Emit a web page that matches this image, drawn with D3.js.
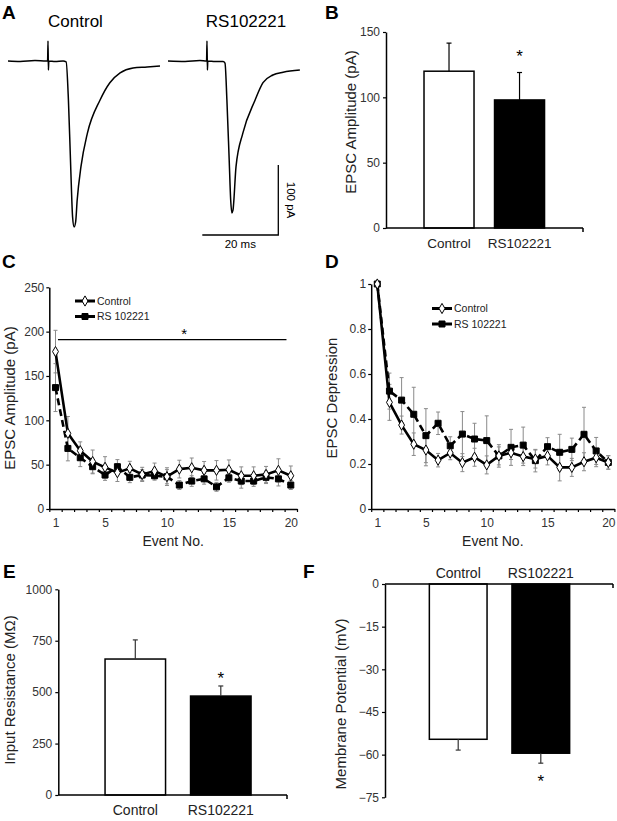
<!DOCTYPE html>
<html><head><meta charset="utf-8">
<script src="https://cdn.jsdelivr.net/npm/d3@7"></script>
<style>
body{margin:0;background:#fff;}
svg text{font-family:Arial,"Liberation Sans",Helvetica,sans-serif;}
</style></head><body>
<svg id="fig" width="617" height="821"></svg>
<script>
// ---------- DATA ----------
// Panel A: example EPSC traces (time in ms, current in pA)
const controlTraceT = [0,3.2,7.1,10.0,10.42,10.53,10.63,10.74,12.4,14.5,15.3,15.9,16.5,17.0,17.4,17.8,18.2,19.2,20.9,24.2,26.8,29.5,32.9,36.6,40];
const controlTraceI = [0,-0.7,0.7,0,0,28.6,-12.9,0,-0.7,0,-1.4,-55.7,-151,-223,-237,-230,-199,-151,-103,-56,-31,-17,-10,-8.6,-7.1];
const rsTraceT = [0,4.5,8.4,10.15,10.26,10.37,10.47,12.4,14.5,15.0,15.5,16.1,16.5,16.8,17.1,17.9,19.7,22.9,25.0,27.6,30.3,34.7];
const rsTraceI = [0,-0.7,0.7,0,28.6,-12.9,0,-0.7,-0.7,-2.9,-55.7,-141,-199,-217,-213,-151,-103,-56,-31,-20,-16,-13];
const traceTitles = ["Control","RS102221"];
const scaleBarMs = 20, scaleBarPA = 100;

// Bar charts
const barCats = ["Control","RS102221"];
const epscAmp = [120, 98], epscAmpSE = [21.5, 21];
const inputRes = [661, 481], inputResSE = [93, 49];
const membPot = [-54.6, -59.5], membPotSE = [3.8, 3.5];
const ticksB = [0,50,100,150];
const ticksE = [0,250,500,750,1000];
const ticksF = [0,-15,-30,-45,-60,-75];

// Panels C & D
const events = [1,2,3,4,5,6,7,8,9,10,11,12,13,14,15,16,17,18,19,20];
const eventTickLabels = [1,5,10,15,20];
const seriesNames = ["Control","RS 102221"];
const ampControl = [177.5,85.3,65.7,53.5,47,41,45.8,39,42.8,36.5,45,46.5,43.6,43.6,44.3,37.5,37.5,39,43.6,37.5];
const ampControlSE = [24,19,10,13,12,10,8,8,9,10,10,11,10,11,11,10,10,9,13,11];
const ampRS = [136.9,68.3,57.8,47.7,38.3,47.7,35.7,38.3,37.5,36.4,27,31.5,34,25,35.2,31.5,31.5,35.7,34,27];
const ampRSSE = [27,14,10,8,6,8,6,6,5,8,5,6,6,5,5,8,6,7,8,5];
const ticksC = [0,50,100,150,200,250];
const sigC = {from:1.2, to:19.65, value:191};

const depControl = [1,0.474,0.373,0.288,0.262,0.217,0.249,0.206,0.23,0.196,0.236,0.25,0.233,0.222,0.236,0.185,0.185,0.21,0.228,0.207];
const depControlSE = [0,0.08,0.04,0.05,0.07,0.03,0.03,0.04,0.04,0.04,0.04,0.03,0.04,0.04,0.04,0.06,0.04,0.04,0.04,0.03];
const depRS = [1,0.524,0.484,0.421,0.326,0.381,0.281,0.333,0.311,0.304,0.236,0.274,0.284,0.215,0.277,0.252,0.265,0.332,0.258,0.207];
const depRSSE = [0,0.08,0.1,0.12,0.12,0.05,0.04,0.1,0.07,0.11,0.05,0.08,0.08,0.05,0.04,0.08,0.05,0.12,0.06,0.03];
const ticksD = [0,0.2,0.4,0.6,0.8,1];

// ---------- DRAWING ----------
const svg = d3.select("#fig");
const TICKCOL = "#333";

function letter(t,x,y){
  svg.append("text").attr("x",x).attr("y",y).attr("font-size",19).attr("font-weight","bold").text(t);
}
function yLabel(t,x,y){
  svg.append("text").attr("transform",`translate(${x},${y}) rotate(-90)`)
    .attr("text-anchor","middle").attr("font-size",15).attr("fill","#222").text(t);
}
function star(x,y,size){
  svg.append("text").attr("x",x).attr("y",y).attr("text-anchor","middle")
    .attr("font-size",size||16).text("*");
}
function styleAxis(g, fs){
  g.selectAll("path.domain").attr("stroke","#000").attr("stroke-width",1.5);
  g.selectAll(".tick line").attr("stroke","#000").attr("stroke-width",1.2);
  g.selectAll("text").attr("font-size",fs||12).attr("fill",TICKCOL).attr("font-family",null);
}

// ----- Panel A -----
letter("A",2,19);
const yTrace = d3.scaleLinear().domain([0,-100]).range([61,131]);
const xCtl = d3.scaleLinear().domain([0,40]).range([8,160]);
const xRS = d3.scaleLinear().domain([0,40]).range([168,320]);
const traceLine = xs => d3.line().x(d=>xs(d[0])).y(d=>yTrace(d[1])).curve(d3.curveMonotoneX);
svg.append("path").datum(d3.zip(controlTraceT,controlTraceI)).attr("d",traceLine(xCtl))
  .attr("fill","none").attr("stroke","#000").attr("stroke-width",1.5);
svg.append("path").datum(d3.zip(rsTraceT,rsTraceI)).attr("d",traceLine(xRS))
  .attr("fill","none").attr("stroke","#000").attr("stroke-width",1.5);
svg.append("text").attr("x",75.5).attr("y",27).attr("text-anchor","middle").attr("font-size",17).text(traceTitles[0]);
svg.append("text").attr("x",246).attr("y",27).attr("text-anchor","middle").attr("font-size",17).text(traceTitles[1]);
// scale bars
const sbX = 278.3, sbY = 235;
const sbW = xCtl(scaleBarMs)-xCtl(0), sbH = yTrace(-scaleBarPA)-yTrace(0);
svg.append("path").attr("d",`M${sbX-sbW},${sbY}H${sbX}V${sbY-sbH}`)
  .attr("fill","none").attr("stroke","#000").attr("stroke-width",1.3);
svg.append("text").attr("x",sbX-sbW/2).attr("y",sbY+13).attr("text-anchor","middle").attr("font-size",11.5).text(scaleBarMs+" ms");
svg.append("text").attr("transform",`translate(${sbX+9},${sbY-sbH/2}) rotate(90)`)
  .attr("text-anchor","middle").attr("font-size",11.5).text(scaleBarPA+" pA");

// ----- Bar panels -----
function barPanel(o){
  const y = d3.scaleLinear().domain(o.yDomain).range(o.yRange);
  const x = d3.scaleBand().domain(barCats).range(o.bandRange).paddingInner(o.pi).paddingOuter(0.5);
  const y0 = y(0);
  o.values.forEach((v,i)=>{
    const top = Math.min(y(v),y0), h = Math.abs(y(v)-y0);
    svg.append("rect").attr("x",x(barCats[i])).attr("y",top).attr("width",x.bandwidth()).attr("height",h)
      .attr("fill", i===0 ? "#fff" : "#000").attr("stroke","#000").attr("stroke-width",1.5);
    const cx = x(barCats[i]) + x.bandwidth()/2;
    const ve = v + (v>=0 ? o.se[i] : -o.se[i]);
    svg.append("line").attr("x1",cx).attr("x2",cx).attr("y1",y(v)).attr("y2",y(ve))
      .attr("stroke",o.errCol).attr("stroke-width",1.2);
    svg.append("line").attr("x1",cx-2.5).attr("x2",cx+2.5).attr("y1",y(ve)).attr("y2",y(ve))
      .attr("stroke",o.errCol).attr("stroke-width",1.2);
  });
  const gy = svg.append("g").attr("transform",`translate(${o.axisX},0)`)
    .call(d3.axisLeft(y).tickValues(o.ticks).tickFormat(d3.format("d")).tickSize(3).tickPadding(3).tickSizeOuter(0));
  styleAxis(gy,12);
  svg.append("path").attr("d",`M${o.axisX},${y0}H${o.axisEnd}M${o.axisEnd},${y0}v4`)
    .attr("stroke","#000").attr("stroke-width",1.5).attr("fill","none");
  const gx = svg.append("g").attr("transform",`translate(0,${y0})`)
    .call((o.top ? d3.axisTop(x) : d3.axisBottom(x)).tickSize(0).tickPadding(o.catPad));
  gx.select("path.domain").remove();
  gx.selectAll("text").attr("font-size",o.catFs).attr("fill","#222");
  return {x,y};
}

letter("B",325,19);
const pB = barPanel({yDomain:[0,150], yRange:[228,32], bandRange:[388.75,579.8], pi:0.2908,
  values:epscAmp, se:epscAmpSE, ticks:ticksB, axisX:386, axisEnd:583, catPad:10, catFs:13.5, errCol:"#000"});
yLabel("EPSC Amplitude (pA)",356,122);
star(pB.x("RS102221")+pB.x.bandwidth()/2, 62, 17);

letter("E",3,578);
const pE = barPanel({yDomain:[0,1000], yRange:[795,589.3], bandRange:[62.3,293.8], pi:0.2924,
  values:inputRes, se:inputResSE, ticks:ticksE, axisX:58.3, axisEnd:287, catPad:10, catFs:14, errCol:"#333"});
yLabel("Input Resistance (M\u03A9)",15,690);
star(pE.x("RS102221")+pE.x.bandwidth()/2, 684, 17);

letter("F",303,578);
const pF = barPanel({yDomain:[0,-75], yRange:[584,797.3], bandRange:[388.05,610.95], pi:0.3015,
  values:membPot, se:membPotSE, ticks:ticksF, axisX:385, axisEnd:613, catPad:6, catFs:14, errCol:"#333", top:true});
yLabel("Membrane Potential  (mV)",346,704);
star(pF.x("RS102221")+pF.x.bandwidth()/2, 787, 17);

// ----- Line panels -----
function linePanel(o){
  const x = d3.scaleLinear().domain([0.5,20.5]).range(o.xRange);
  const y = d3.scaleLinear().domain(o.yDomain).range(o.yRange);
  const g = svg.append("g");
  const series = [
    {v:o.ctl, se:o.ctlSE, dash:null, sym:d3.symbolDiamond, fill:"#fff", size:30},
    {v:o.rs, se:o.rsSE, dash:"7,4", sym:d3.symbolSquare, fill:"#000", size:36}
  ];
  series.forEach(s=>{
    events.forEach((e,i)=>{
      if(!s.se[i]) return;
      const cx = x(e), lo = y(s.v[i]-s.se[i]), hi = y(s.v[i]+s.se[i]);
      g.append("path").attr("d",`M${cx},${lo}V${hi}M${cx-2},${hi}H${cx+2}M${cx-2},${lo}H${cx+2}`)
        .attr("stroke","#8a8a8a").attr("stroke-width",1).attr("fill","none");
    });
  });
  [series[1],series[0]].forEach(s=>{
    g.append("path").datum(events.map((e,i)=>[e,s.v[i]]))
      .attr("d",d3.line().x(d=>x(d[0])).y(d=>y(d[1])))
      .attr("fill","none").attr("stroke","#000").attr("stroke-width",2.6)
      .attr("stroke-dasharray",s.dash);
  });
  [series[1],series[0]].forEach(s=>{
    g.selectAll(null).data(events).enter().append("path")
      .attr("transform",(e,i)=>`translate(${x(e)},${y(s.v[i])})`)
      .attr("d",d3.symbol().type(s.sym).size(s.size)())
      .attr("fill",s.fill).attr("stroke","#000").attr("stroke-width",1);
  });
  const gy = svg.append("g").attr("transform",`translate(${o.xRange[0]},0)`)
    .call(d3.axisLeft(y).tickValues(o.yTicks).tickFormat(o.fmt).tickSize(3).tickPadding(2).tickSizeOuter(0));
  styleAxis(gy,12);
  const bounds = events.map(e=>e-0.5).concat([20.5]);
  const gx = svg.append("g").attr("transform",`translate(0,${o.yRange[0]})`)
    .call(d3.axisBottom(x).tickValues(bounds).tickFormat("").tickSize(3).tickSizeOuter(0));
  styleAxis(gx,12);
  const gl = svg.append("g").attr("transform",`translate(0,${o.yRange[0]})`)
    .call(d3.axisBottom(x).tickValues(eventTickLabels).tickSize(0).tickPadding(9));
  gl.select("path.domain").remove();
  gl.selectAll("text").attr("font-size",12).attr("fill",TICKCOL);
  svg.append("text").attr("x",(o.xRange[0]+o.xRange[1])/2).attr("y",o.yRange[0]+37)
    .attr("text-anchor","middle").attr("font-size",14).attr("fill","#222").text("Event No.");
  series.forEach((s,i)=>{
    const ly = o.legY + i*15.5;
    g.append("line").attr("x1",o.legX).attr("x2",o.legX+20).attr("y1",ly).attr("y2",ly)
      .attr("stroke","#000").attr("stroke-width",3);
    g.append("path").attr("transform",`translate(${o.legX+10},${ly})`)
      .attr("d",d3.symbol().type(s.sym).size(s.size)()).attr("fill",s.fill).attr("stroke","#000").attr("stroke-width",1);
    g.append("text").attr("x",o.legX+22).attr("y",ly+3.8).attr("font-size",10.5).attr("fill","#222").text(seriesNames[i]);
  });
  return {x,y};
}

letter("C",2,268);
const pC = linePanel({xRange:[49.3,297], yDomain:[0,250], yRange:[509,287.3], yTicks:ticksC, fmt:d3.format("d"),
  ctl:ampControl, ctlSE:ampControlSE, rs:ampRS, rsSE:ampRSSE, legX:75, legY:301});
svg.append("line").attr("x1",pC.x(sigC.from)).attr("x2",pC.x(sigC.to)).attr("y1",pC.y(sigC.value)).attr("y2",pC.y(sigC.value))
  .attr("stroke","#000").attr("stroke-width",1.3);
star((pC.x(sigC.from)+pC.x(sigC.to))/2+12, 339, 15);
yLabel("EPSC Amplitude (pA)",15,398);

letter("D",325,268);
linePanel({xRange:[371.2,614.4], yDomain:[0,1], yRange:[509,284], yTicks:ticksD, fmt:d=>d3.format("~g")(d),
  ctl:depControl, ctlSE:depControlSE, rs:depRS, rsSE:depRSSE, legX:432, legY:308.5});
yLabel("EPSC Depression",337,398);
</script>
</body></html>
